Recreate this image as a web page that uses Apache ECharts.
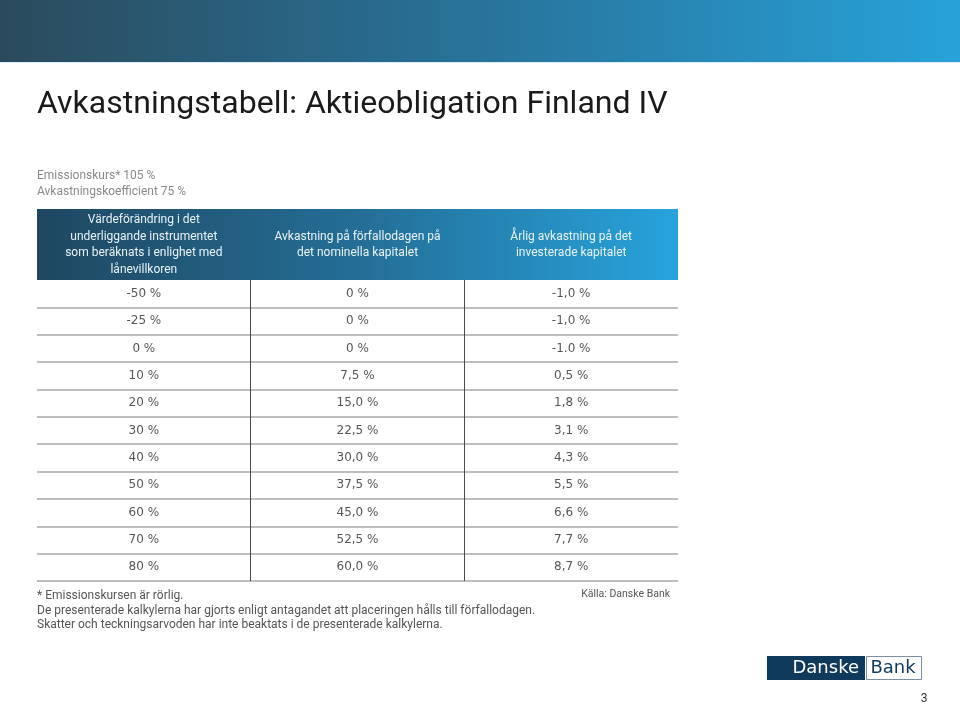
<!DOCTYPE html>
<html>
<head>
<meta charset="utf-8">
<script src="https://cdn.jsdelivr.net/npm/echarts@6/dist/echarts.min.js"></script>
<style>
html,body{margin:0;padding:0;background:#fff;}
#chart{width:960px;height:704px;}
</style>
</head>
<body>
<div id="chart"></div>
<script>
// ---- Data ----
const headers = [
  'Värdeförändring i det\nunderliggande instrumentet\nsom beräknats i enlighet med\nlånevillkoren',
  'Avkastning på förfallodagen på\ndet nominella kapitalet',
  'Årlig avkastning på det\ninvesterade kapitalet'
];
const valueChange = ['-50 %','-25 %','0 %','10 %','20 %','30 %','40 %','50 %','60 %','70 %','80 %'];
const maturityReturn = ['0 %','0 %','0 %','7,5 %','15,0 %','22,5 %','30,0 %','37,5 %','45,0 %','52,5 %','60,0 %'];
const annualReturn = ['-1,0 %','-1,0 %','-1.0 %','0,5 %','1,8 %','3,1 %','4,3 %','5,5 %','6,6 %','7,7 %','8,7 %'];
const titleText = 'Avkastningstabell: Aktieobligation Finland IV';
const subLines = ['Emissionskurs* 105 %', 'Avkastningskoefficient 75 %'];
const footLines = [
  '* Emissionskursen är rörlig.',
  'De presenterade kalkylerna har gjorts enligt antagandet att placeringen hålls till förfallodagen.',
  'Skatter och teckningsarvoden har inte beaktats i de presenterade kalkylerna.'
];
const sourceText = 'Källa: Danske Bank';

// ---- Build cells ----
const columns = [valueChange, maturityReturn, annualReturn];
const cells = [];
columns.forEach((col, c) => {
  col.forEach((txt, r) => cells.push([c + 0.5, r + 0.5, txt]));
});
const nRows = valueChange.length;
const FONT = 'Roboto, "Noto Sans", sans-serif';
const BODY = '"DejaVu Sans", Roboto, sans-serif';

const chart = echarts.init(document.getElementById('chart'), null, {renderer: 'canvas'});
chart.setOption({
  backgroundColor: '#ffffff',
  animation: false,
  textStyle: {fontFamily: FONT},
  title: {
    text: titleText,
    left: 32, top: 84,
    textStyle: {fontSize: 32, fontWeight: 'normal', color: '#1a1a1a', fontFamily: FONT}
  },
  grid: {left: 37, top: 280, width: 641, height: 301, containLabel: false},
  xAxis: [{
    type: 'value', min: 0, max: 3, interval: 1,
    axisLine: {show: false}, axisTick: {show: false}, axisLabel: {show: false},
    splitLine: {show: true, showMinLine: false, showMaxLine: false, lineStyle: {color: '#4a4a4a', width: 1}}
  }, {
    type: 'category', data: headers, position: 'top',
    axisLine: {show: false}, axisTick: {show: false}, splitLine: {show: false},
    axisLabel: {
      show: true, interval: 0, margin: 35, verticalAlign: 'middle', align: 'center',
      color: '#eaf3f8', fontSize: 12, lineHeight: 16.5, fontFamily: FONT
    }
  }],
  yAxis: {
    type: 'value', min: 0, max: nRows, interval: 1, inverse: true,
    axisLine: {show: false}, axisTick: {show: false}, axisLabel: {show: false},
    splitLine: {show: true, showMinLine: false, showMaxLine: true, lineStyle: {color: '#a8a8a8', width: 1.5}}
  },
  series: [{
    type: 'scatter',
    xAxisIndex: 0, yAxisIndex: 0,
    data: cells,
    symbolSize: 1,
    itemStyle: {color: 'rgba(0,0,0,0)'},
    label: {
      show: true, position: 'inside',
      formatter: p => p.value[2],
      color: '#2a2a2a', fontSize: 12, fontFamily: BODY
    },
    emphasis: {disabled: true},
    silent: true
  }],
  graphic: [
    {type: 'rect', z: -10, shape: {x: 0, y: 0, width: 960, height: 62},
     style: {fill: new echarts.graphic.LinearGradient(0, 0, 1, 0, [
       {offset: 0, color: '#2b4a5c'}, {offset: 0.5, color: '#28739a'}, {offset: 1, color: '#27a2d9'}])}},
    {type: 'rect', z: -10, shape: {x: 0, y: 62, width: 960, height: 1}, style: {fill: '#d6ecf6'}},
    {type: 'rect', z: -10, shape: {x: 37, y: 209, width: 641, height: 71},
     style: {fill: new echarts.graphic.LinearGradient(0, 0, 1, 0, [
       {offset: 0, color: '#1f4760'}, {offset: 0.5, color: '#246e96'}, {offset: 1, color: '#27a3dc'}])}},
    {type: 'text', left: 37, top: 168, style: {text: subLines.join('\n'), fontSize: 12, lineHeight: 16, fill: '#8a8a8a', fontFamily: FONT}},
    {type: 'text', left: 37, top: 589, style: {text: footLines.join('\n'), fontSize: 12, lineHeight: 14.5, fill: '#555', fontFamily: FONT}},
    {type: 'text', right: 290, top: 589, style: {text: sourceText, fontSize: 10.5, fill: '#555', fontFamily: FONT}},
    {type: 'rect', shape: {x: 767, y: 656, width: 98, height: 24}, style: {fill: '#0f3a5c'}},
    {type: 'rect', shape: {x: 866.5, y: 656.5, width: 55, height: 23}, style: {fill: '#fff', stroke: '#7a8fa3', lineWidth: 1}},
    {type: 'text', x: 859, y: 668, style: {text: 'Danske', align: 'right', verticalAlign: 'middle', fontSize: 18, fill: '#fff', fontFamily: '"DejaVu Sans", sans-serif'}},
    {type: 'text', x: 893, y: 668, style: {text: 'Bank', align: 'center', verticalAlign: 'middle', fontSize: 18, fill: '#0f3a5c', fontFamily: '"DejaVu Sans", sans-serif'}},
    {type: 'text', x: 924, y: 699, style: {text: '3', align: 'center', verticalAlign: 'middle', fontSize: 12, fill: '#333', fontFamily: FONT}}
  ]
});
</script>
</body>
</html>
